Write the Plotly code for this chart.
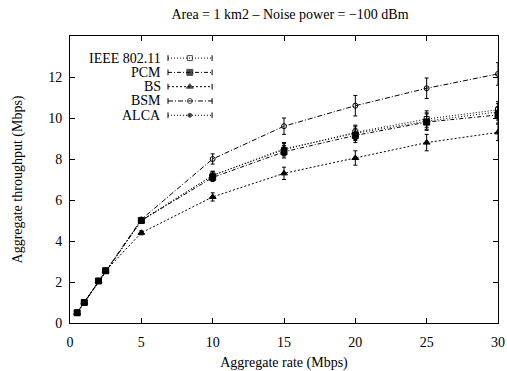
import plotly.graph_objects as go

rates = [0.5, 1, 2, 2.5, 5, 10, 15, 20, 25, 30]

names = ["IEEE 802.11", "PCM", "BS", "BSM", "ALCA"]
ieee = [0.5, 1.0, 2.05, 2.55, 5.0, 7.2, 8.45, 9.3, 9.95, 10.4]
pcm = [0.5, 1.0, 2.05, 2.55, 5.0, 7.1, 8.35, 9.15, 9.8, 10.15]
bs = [0.5, 1.0, 2.05, 2.55, 4.4, 6.15, 7.3, 8.05, 8.8, 9.3]
bsm = [0.5, 1.0, 2.05, 2.55, 5.05, 8.0, 9.6, 10.6, 11.45, 12.15]
alca = [0.5, 1.0, 2.05, 2.55, 5.0, 7.2, 8.5, 9.25, 9.85, 10.3]

err_ieee = [0.02, 0.03, 0.04, 0.05, 0.1, 0.2, 0.3, 0.35, 0.4, 0.4]
err_pcm = [0.02, 0.03, 0.04, 0.05, 0.1, 0.2, 0.3, 0.35, 0.4, 0.4]
err_bs = [0.02, 0.03, 0.04, 0.05, 0.1, 0.2, 0.3, 0.35, 0.4, 0.4]
err_bsm = [0.02, 0.03, 0.04, 0.05, 0.1, 0.25, 0.4, 0.5, 0.5, 0.55]
err_alca = [0.02, 0.03, 0.04, 0.05, 0.1, 0.2, 0.3, 0.35, 0.4, 0.4]

series = [ieee, pcm, bs, bsm, alca]
errors = [err_ieee, err_pcm, err_bs, err_bsm, err_alca]
symbols = ["square-open", "square", "triangle-up", "circle-open", "circle"]
msizes = [5, 6, 6, 5, 4]
dashes = ["1px,2px", "4px,2px,1px,2px", "2px,2px", "5px,2px,1px,2px", "1px,2px"]

FONT = "Liberation Serif"
fig = go.Figure()

for name, ys, es, sym, ms, ds in zip(names, series, errors, symbols, msizes, dashes):
    fig.add_trace(go.Scatter(
        x=rates, y=ys, name=name, mode="lines+markers",
        line=dict(color="black", width=1, dash=ds),
        marker=dict(symbol=sym, size=ms, color="black", line=dict(color="black", width=1)),
        error_y=dict(type="data", array=es, visible=True, color="black", thickness=1, width=2),
        showlegend=False,
    ))

# custom gnuplot-style legend (text on the left, sample on the right)
lx0, lxm, lx1 = 0.229, 0.280, 0.332
ly0, lstep = 0.923, 0.0498
for i, (name, sym, ms, ds) in enumerate(zip(names, symbols, msizes, dashes)):
    yy = ly0 - i * lstep
    fig.add_trace(go.Scatter(
        x=[lx0, lxm, lx1], y=[yy, yy, yy], mode="lines+markers",
        xaxis="x2", yaxis="y2", showlegend=False, hoverinfo="skip",
        line=dict(color="black", width=1, dash=ds),
        marker=dict(symbol=sym, size=[0, ms, 0], color="black", line=dict(color="black", width=1)),
        error_y=dict(type="data", array=[0.01, 0, 0.01], visible=True, color="black", thickness=1, width=0),
    ))
    fig.add_annotation(x=0.215, y=yy, xref="x2", yref="y2", text=name, showarrow=False,
                       xanchor="right", yanchor="middle", borderpad=0,
                       font=dict(family=FONT, size=14, color="black"))

axis_common = dict(showline=True, linecolor="black", linewidth=1, mirror="ticks",
                   ticks="inside", ticklen=5, tickcolor="black", showgrid=False, zeroline=False,
                   automargin=False, tickfont=dict(family=FONT, size=14, color="black"))

fig.update_layout(
    width=507, height=371,
    margin=dict(l=70, r=9, t=36, b=48),
    paper_bgcolor="white", plot_bgcolor="white",
    title=dict(text="Area = 1 km2 \u2013 Noise power = \u2212100 dBm", x=0.572, xanchor="center",
               y=0.975, yanchor="top", font=dict(family=FONT, size=14, color="black")),
    xaxis=dict(range=[0, 30], tickvals=[0, 5, 10, 15, 20, 25, 30], ticklabelstandoff=6,
               title=dict(text="Aggregate rate (Mbps)", font=dict(family=FONT, size=14, color="black"), standoff=8),
               **axis_common),
    yaxis=dict(range=[0, 14], tickvals=[0, 2, 4, 6, 8, 10, 12, 14], ticktext=["0", "2", "4", "6", "8", "10", "12", ""],
               ticklabelstandoff=4,
               title=dict(text="Aggregate throughput (Mbps)", font=dict(family=FONT, size=14, color="black"), standoff=22),
               **axis_common),
    xaxis2=dict(range=[0, 1], overlaying="x", visible=False),
    yaxis2=dict(range=[0, 1], overlaying="y", visible=False),
)

fig.write_html("out.html")
